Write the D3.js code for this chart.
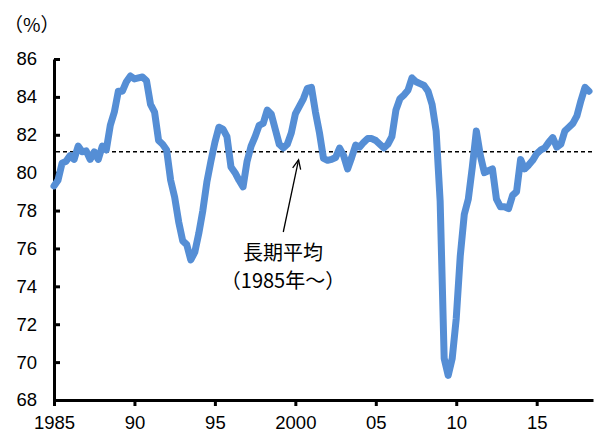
<!DOCTYPE html>
<html>
<head>
<meta charset="utf-8">
<script src="https://cdn.jsdelivr.net/npm/d3@7"></script>
<style>
  html, body { margin: 0; padding: 0; background: #fff; }
  svg { display: block; }
  text { font-family: "Liberation Sans", Arial, "Noto Sans CJK JP", sans-serif; fill: #000; }
  .jp { font-family: "Noto Sans CJK JP", "Liberation Sans", sans-serif; }
</style>
</head>
<body>
<svg id="chart" width="616" height="439"></svg>
<script>
// Quarterly series, 1985 Q1 onward (%)
const startYear = 1985;
const values = [
  79.3, 79.6, 80.5, 80.6,   // 1985
  80.9, 80.7, 81.4, 81.1,   // 1986
  81.15, 80.7, 81.1, 80.7,  // 1987
  81.4, 81.2, 82.5, 83.2,   // 1988
  84.3, 84.3, 84.8, 85.1,   // 1989
  84.95, 85.0, 85.05, 84.85,// 1990
  83.6, 83.2, 81.7, 81.5,   // 1991
  81.2, 79.6, 78.7, 77.4,   // 1992
  76.4, 76.2, 75.4, 75.8,   // 1993
  76.8, 78.0, 79.5, 80.6,   // 1994
  81.6, 82.4, 82.3, 81.9,   // 1995
  80.3, 80.0, 79.6, 79.25,  // 1996
  80.6, 81.4, 81.9, 82.5,   // 1997
  82.6, 83.3, 83.1, 82.3,   // 1998
  81.5, 81.3, 81.5, 82.1,   // 1999
  83.1, 83.5, 83.9, 84.45,  // 2000
  84.5, 83.2, 82.1, 80.75,  // 2001
  80.65, 80.7, 80.8, 81.3,  // 2002
  80.9, 80.2, 80.8, 81.45,  // 2003
  81.35, 81.6, 81.8, 81.8,  // 2004
  81.7, 81.5, 81.3, 81.5,   // 2005
  81.9, 83.3, 83.9, 84.1,   // 2006
  84.35, 85.0, 84.8, 84.7,  // 2007
  84.6, 84.3, 83.6, 82.2,   // 2008
  78.5, 70.2, 69.3, 70.2,   // 2009
  72.3, 75.6, 77.8, 78.6,   // 2010
  80.3, 82.2, 80.9, 80.0,   // 2011
  80.1, 80.2, 78.6, 78.2,   // 2012
  78.2, 78.1, 78.8, 79.0,   // 2013
  80.7, 80.2, 80.4, 80.65,  // 2014
  81.0, 81.2, 81.3, 81.6,   // 2015
  81.85, 81.35, 81.5, 82.2, // 2016
  82.4, 82.6, 83.0, 83.8,   // 2017
  84.5, 84.3                // 2018
];
const longTermAverage = 81.1;

const xTickYears = [1985, 1990, 1995, 2000, 2005, 2010, 2015];
const xTickLabels = ["1985", "90", "95", "2000", "05", "10", "15"];
const yTicks = [68, 70, 72, 74, 76, 78, 80, 82, 84, 86];

const unitLabel = "（%）";
const noteLines = ["長期平均", "（1985年～）"];

const svg = d3.select("#chart");

const x = d3.scaleLinear().domain([1985, 2018.5]).range([54, 593]);
const y = d3.scaleLinear().domain([68, 86]).range([400, 59]);

const series = values.map((v, i) => ({ t: startYear + i * 0.25, v }));

// Y axis: ticks pointing inward
const yAxis = d3.axisLeft(y)
  .tickValues(yTicks)
  .tickSizeInner(-6)
  .tickSizeOuter(0)
  .tickPadding(17)
  .tickFormat(d3.format("d"));

const gy = svg.append("g")
  .attr("transform", `translate(${x.range()[0]},0)`)
  .call(yAxis);
gy.select(".domain").attr("stroke", "#000").attr("stroke-width", 3);
gy.selectAll(".tick line").attr("stroke", "#000").attr("stroke-width", 3);
gy.selectAll(".tick text").attr("font-size", 18.5).attr("font-family", "Liberation Sans, Arial, sans-serif");

// X axis: ticks pointing outward
const xAxis = d3.axisBottom(x)
  .tickValues(xTickYears)
  .tickSizeInner(6)
  .tickSizeOuter(0)
  .tickPadding(10)
  .tickFormat((d, i) => xTickLabels[i]);

const gx = svg.append("g")
  .attr("transform", `translate(0,${y.range()[0]})`)
  .call(xAxis);
gx.select(".domain").attr("stroke", "#000").attr("stroke-width", 3);
gx.selectAll(".tick line").attr("stroke", "#000").attr("stroke-width", 3);
gx.selectAll(".tick text").attr("font-size", 18.5).attr("font-family", "Liberation Sans, Arial, sans-serif");

// Long-term average reference line
svg.append("line")
  .attr("x1", x.range()[0] + 2)
  .attr("x2", x.range()[1])
  .attr("y1", y(longTermAverage))
  .attr("y2", y(longTermAverage))
  .attr("stroke", "#000")
  .attr("stroke-width", 1.5)
  .attr("stroke-dasharray", "4,3");

// Main series
const line = d3.line()
  .x(d => x(d.t))
  .y(d => y(d.v));

svg.append("path")
  .datum(series)
  .attr("fill", "none")
  .attr("stroke", "#558ed5")
  .attr("stroke-width", 7)
  .attr("stroke-linejoin", "round")
  .attr("stroke-linecap", "round")
  .attr("d", line);

// Unit label
svg.append("text")
  .attr("class", "jp")
  .attr("x", 4)
  .attr("y", 32)
  .attr("font-size", 19)
  .text(unitLabel);

// Annotation with arrow pointing at the average line
const tipX = x(2000.2), tipY = y(longTermAverage) + 8;
const tailX = x(1999.25), tailY = 232;
svg.append("line")
  .attr("x1", tailX).attr("y1", tailY)
  .attr("x2", tipX).attr("y2", tipY)
  .attr("stroke", "#000").attr("stroke-width", 1.3);

const ang = Math.atan2(tailY - tipY, tailX - tipX);
const headLen = 10, spread = 0.42;
svg.append("path")
  .attr("d", `M${tipX + headLen * Math.cos(ang - spread)},${tipY + headLen * Math.sin(ang - spread)}
              L${tipX},${tipY}
              L${tipX + headLen * Math.cos(ang + spread)},${tipY + headLen * Math.sin(ang + spread)}`)
  .attr("fill", "none")
  .attr("stroke", "#000")
  .attr("stroke-width", 1.3);

svg.append("text")
  .attr("class", "jp")
  .attr("x", 283)
  .attr("y", 260)
  .attr("text-anchor", "middle")
  .attr("font-size", 20)
  .text(noteLines[0]);

svg.append("text")
  .attr("class", "jp")
  .attr("x", 283)
  .attr("y", 288)
  .attr("text-anchor", "middle")
  .attr("font-size", 20)
  .text(noteLines[1]);
</script>
</body>
</html>
